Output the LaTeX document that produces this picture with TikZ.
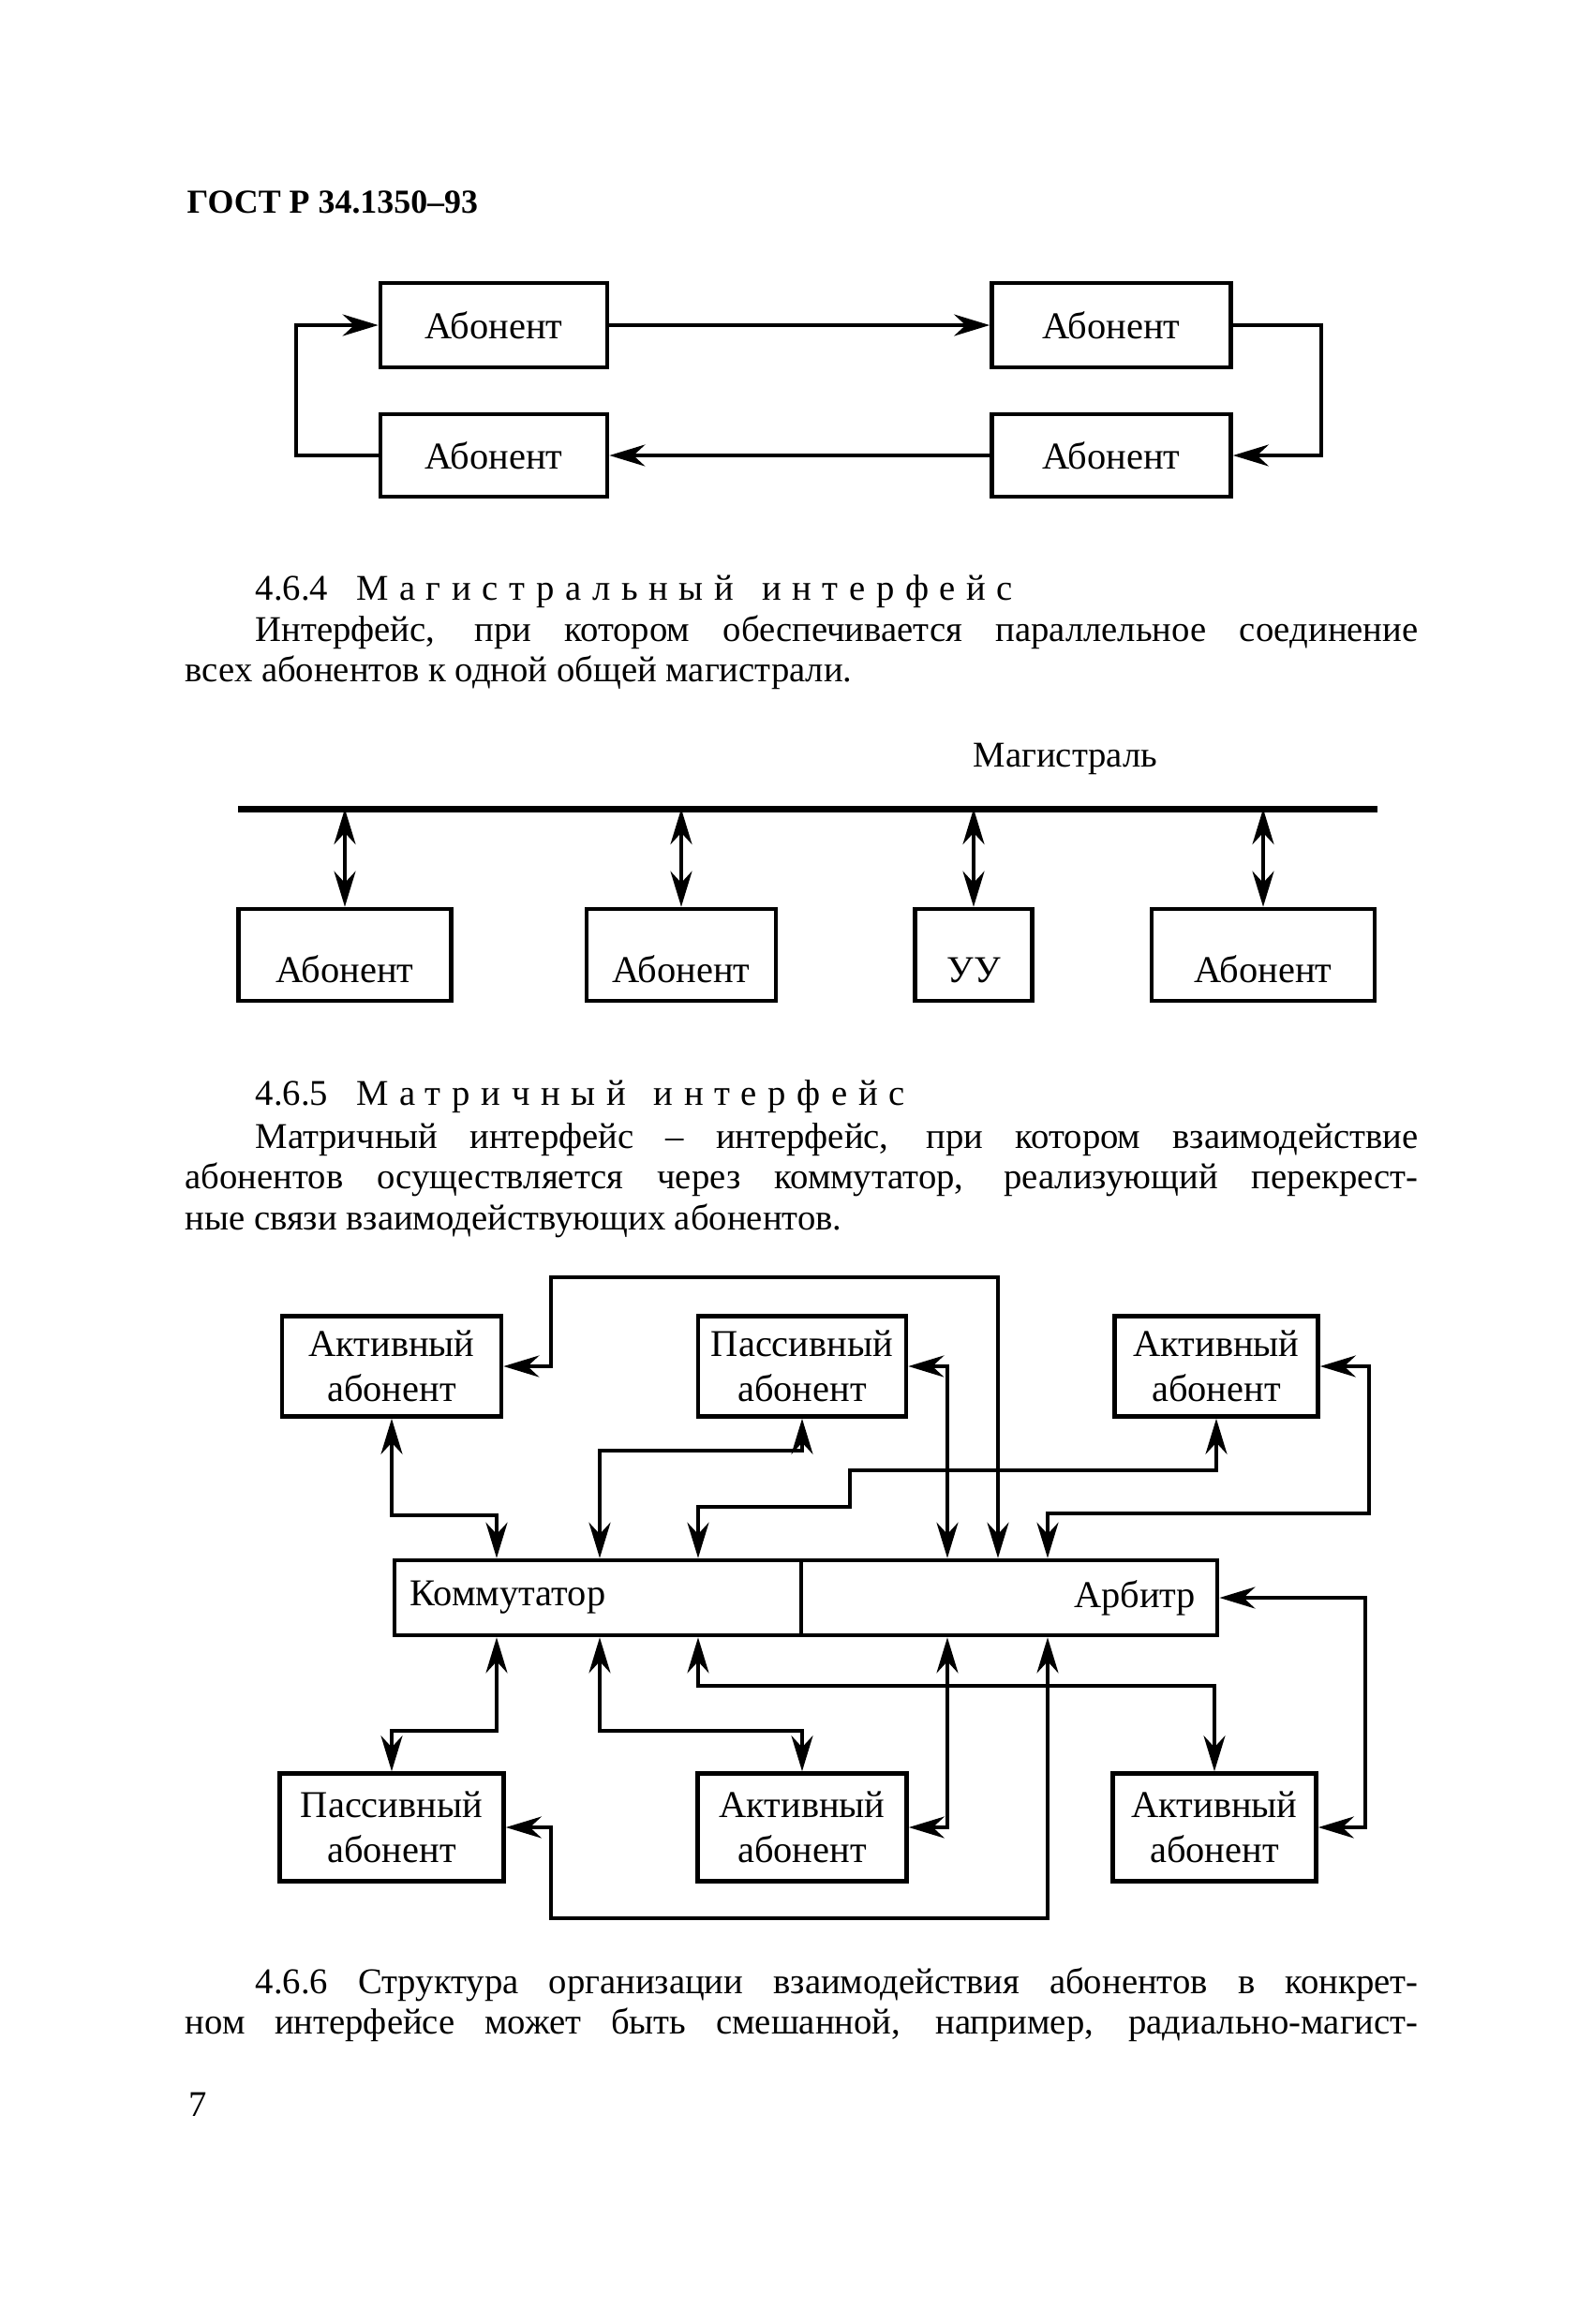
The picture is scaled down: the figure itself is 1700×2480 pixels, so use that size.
\documentclass[tikz,border=0pt]{standalone}
\usepackage{fontspec}
\setmainfont{Liberation Serif}
\usetikzlibrary{arrows.meta}

\newcommand\txtfont{\fontsize{11}{13}\selectfont}
\newcommand\lblfont{\fontsize{11.5}{13.5}\selectfont}
\newcommand\spaced{\addfontfeature{LetterSpace=30}}

\tikzset{
  abox/.style={draw, line width=1.3pt, inner sep=0pt, align=center, font=\lblfont},
  lowtext/.style={text height=0.58cm, text depth=0cm},
  link/.style={line width=1.1pt, -{Stealth[length=3.8mm,width=2.3mm]}},
  duplex/.style={line width=1.1pt, {Stealth[length=3.8mm,width=2.3mm]}-{Stealth[length=3.8mm,width=2.3mm]}},
  busline/.style={line width=2pt},
  txt/.style={anchor=base west, inner sep=0pt, font=\txtfont}
}

\begin{document}
\begin{tikzpicture}[x=0.01cm, y=-0.01cm]
\useasboundingbox (0,0) rectangle (1700,2480);

\node[txt, font=\bfseries\fontsize{10.2}{12}\selectfont] (hdr) at (199,227) {ГОСТ Р 34.1350–93};

% ring
\node[abox, minimum width=2.42cm, minimum height=0.9cm] (r1) at (527,347) {Абонент};
\node[abox, minimum width=2.55cm, minimum height=0.9cm] (r2) at (1186,347) {Абонент};
\node[abox, minimum width=2.55cm, minimum height=0.88cm] (r3) at (1186,486) {Абонент};
\node[abox, minimum width=2.42cm, minimum height=0.88cm] (r4) at (527,486) {Абонент};
\coordinate (rr) at (1410,347);
\coordinate (rl) at (316,486);
\draw[link] (r1) -- (r2);
\draw[link] (r2.east) -- (rr) |- (r3.east);
\draw[link] (r3) -- (r4);
\draw[link] (r4.west) -- (rl) |- (r1.west);

\node[txt] (h464) at (272,640) {4.6.4\hspace{0.3cm}{\spaced Магистральный\hspace{0.3cm}интерфейс}};
\node[txt] (p1) at (272,684) {\makebox[12.40cm][s]{Интерфейс, при котором обеспечивается параллельное соединение}};
\node[txt] (p2) at (197,727) {всех абонентов к одной общей магистрали.};

% bus
\node[txt] (mag) at (1038,818) {Магистраль};
\coordinate (busL) at (254,863);
\coordinate (busR) at (1470,863);
\draw[busline] (busL) -- (busR);
\node[abox, lowtext, minimum width=2.27cm, minimum height=0.98cm] (m1) at (368,1019) {Абонент};
\node[abox, lowtext, minimum width=2.02cm, minimum height=0.98cm] (m2) at (727,1019) {Абонент};
\node[abox, lowtext, minimum width=1.25cm, minimum height=0.98cm] (m3) at (1039,1019) {УУ};
\node[abox, lowtext, minimum width=2.38cm, minimum height=0.98cm] (m4) at (1348,1019) {Абонент};
\foreach \m in {m1,m2,m3,m4}
  \draw[duplex] (\m.north) -- (\m.north |- busL);

\node[txt] (h465) at (272,1179) {4.6.5\hspace{0.3cm}{\spaced Матричный\hspace{0.3cm}интерфейс}};
\node[txt] (p3) at (272,1225) {\makebox[12.40cm][s]{Матричный интерфейс – интерфейс, при котором взаимодействие}};
\node[txt] (p4) at (197,1268) {\makebox[13.15cm][s]{абонентов осуществляется через коммутатор, реализующий перекрест-}};
\node[txt] (p5) at (197,1312) {ные связи взаимодействующих абонентов.};

% matrix
\node[abox, minimum width=2.34cm, minimum height=1.07cm] (t1) at (418,1458) {Активный\\абонент};
\node[abox, minimum width=2.22cm, minimum height=1.07cm] (t2) at (856,1458) {Пассивный\\абонент};
\node[abox, minimum width=2.17cm, minimum height=1.07cm] (t3) at (1298,1458) {Активный\\абонент};
\node[abox, minimum width=4.34cm, minimum height=0.8cm, text width=4.0cm, align=left] (kom) at (638,1705) {Коммутатор};
\node[abox, minimum width=4.44cm, minimum height=0.8cm, text width=3.98cm, align=right] (arb) at (1077,1705) {Арбитр};
\node[abox, minimum width=2.39cm, minimum height=1.15cm] (b1) at (418,1950) {Пассивный\\абонент};
\node[abox, minimum width=2.23cm, minimum height=1.15cm] (b2) at (856,1950) {Активный\\абонент};
\node[abox, minimum width=2.17cm, minimum height=1.15cm] (b3) at (1296,1950) {Активный\\абонент};

\draw[duplex] (t1.east) -| (588,1363) -| (1065,0 |- arb.north);
\draw[duplex] (t2.east) -| (1011,0 |- arb.north);
\draw[duplex] (t3.east) -| (1461,1615) -| (1118,0 |- arb.north);
\draw[duplex] (t1.south) |- (530,1617) -- (530,0 |- kom.north);
\draw[duplex] (t2.south) |- (640,1548) -- (640,0 |- kom.north);
\draw[duplex] (t3.south) |- (907,1569) |- (745,1608) -- (745,0 |- kom.north);
\draw[duplex] (arb.east) -| (1457,0 |- b3.east) -- (b3.east);
\draw[duplex] (530,0 |- kom.south) -- (530,1847) -| (b1.north);
\draw[duplex] (640,0 |- kom.south) -- (640,1847) -| (b2.north);
\draw[duplex] (745,0 |- kom.south) -- (745,1799) -| (b3.north);
\draw[duplex] (1011,0 |- arb.south) |- (b2.east);
\draw[duplex] (1118,0 |- arb.south) -- (1118,2047) -- (588,2047) |- (b1.east);

\node[txt] (p6) at (272,2127) {\makebox[12.40cm][s]{4.6.6 Структура организации взаимодействия абонентов в конкрет-}};
\node[txt] (p7) at (197,2170) {\makebox[13.15cm][s]{ном интерфейсе может быть смешанной, например, радиально-магист-}};
\node[txt] (pg) at (201,2258) {7};
\end{tikzpicture}
\end{document}
